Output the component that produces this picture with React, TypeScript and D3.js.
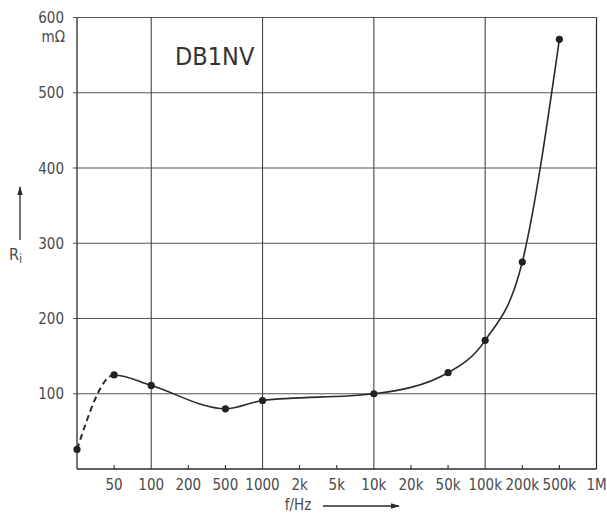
import React from "react";
import * as d3 from "d3";

const xCategories = ["", "50", "100", "200", "500", "1000", "2k", "5k", "10k", "20k", "50k", "100k", "200k", "500k", "1M"];
const gridCategories = ["100", "1000", "10k", "100k"];
const yTicks = [100, 200, 300, 400, 500, 600];
const pointCategories = ["", "50", "100", "500", "1000", "10k", "50k", "100k", "200k", "500k"];
const pointValues = [26, 125, 111, 80, 91, 100, 128, 171, 275, 571];
const title = "DB1NV";

const W = 607, H = 515;
const left = 77, right = 596.5, top = 17.5, bottom = 469;
const FONT = "'Liberation Sans Narrow', 'DejaVu Sans Condensed', 'Liberation Sans', Arial, sans-serif";
const INK = "#2a2a2a";
const TXT = "#4a4a4a";

export default function App() {
  const x = d3.scalePoint<string>().domain(xCategories).range([left, right]);
  const y = d3.scaleLinear().domain([0, 600]).range([bottom, top]);
  const pts: [number, number][] = pointCategories.map((c, i) => [x(c)!, y(pointValues[i])]);
  const line = d3.line<[number, number]>().x(d => d[0]).y(d => d[1]).curve(d3.curveMonotoneX);
  const path = line(pts) || "";
  const splitX = x("50")!;

  return (
    <svg width={W} height={H} style={{ position: "absolute", left: 0, top: 0, background: "#fff" }}>
      <defs>
        <clipPath id="clipDash"><rect x={0} y={0} width={splitX} height={H} /></clipPath>
        <clipPath id="clipSolid"><rect x={splitX} y={0} width={W - splitX} height={H} /></clipPath>
        <marker id="arr" viewBox="0 0 10 10" refX="9" refY="5" markerWidth="7" markerHeight="7" orient="auto">
          <path d="M0,2 L10,5 L0,8 Z" fill={INK} />
        </marker>
      </defs>

      {/* horizontal grid */}
      {yTicks.map(t => (
        <line key={"h" + t} x1={left - 4} x2={right} y1={y(t)} y2={y(t)} stroke="#555" strokeWidth={1.1} />
      ))}
      {/* vertical grid */}
      {gridCategories.map(c => (
        <line key={"v" + c} x1={x(c)} x2={x(c)} y1={top} y2={bottom} stroke="#444" strokeWidth={1.1} />
      ))}
      {/* frame */}
      <line x1={left} x2={left} y1={top} y2={bottom} stroke={INK} strokeWidth={1.3} />
      <line x1={right} x2={right} y1={top} y2={bottom} stroke={INK} strokeWidth={1.2} />
      <line x1={left} x2={right} y1={bottom} y2={bottom} stroke={INK} strokeWidth={1.3} />
      {/* minor ticks */}
      {xCategories.filter(c => c !== "" && !gridCategories.includes(c) && c !== "1M").map(c => (
        <line key={"t" + c} x1={x(c)} x2={x(c)} y1={bottom} y2={bottom - 4} stroke={INK} strokeWidth={1.1} />
      ))}

      {/* y tick labels */}
      {yTicks.map(t => (
        <text key={"yl" + t} x={64} y={y(t) + 5.5} textAnchor="end" fontFamily={FONT} fontSize={15} fill={TXT}>{t}</text>
      ))}
      <text x={65} y={42} textAnchor="end" fontFamily={FONT} fontSize={15} fill={TXT}>mΩ</text>

      {/* x tick labels */}
      {xCategories.filter(c => c !== "").map(c => (
        <text key={"xl" + c} x={x(c)} y={490} textAnchor="middle" fontFamily={FONT} fontSize={15} fill={TXT}>{c}</text>
      ))}

      {/* axis titles */}
      <text x={298} y={510} textAnchor="middle" fontFamily={FONT} fontSize={15} fill={TXT}>f/Hz</text>
      <line x1={323} x2={399} y1={506} y2={506} stroke={INK} strokeWidth={1.3} markerEnd="url(#arr)" />
      <line x1={20} x2={20} y1={240} y2={187} stroke={INK} strokeWidth={1.3} markerEnd="url(#arr)" />
      <text x={9} y={260} fontFamily={FONT} fontSize={16} fill={TXT}>R<tspan fontSize={12} dy={3}>i</tspan></text>

      {/* title */}
      <text x={175} y={65} fontFamily={FONT} fontSize={25} fill="#333">{title}</text>

      {/* curve */}
      <path d={path} fill="none" stroke={INK} strokeWidth={2} strokeDasharray="6 4" clipPath="url(#clipDash)" />
      <path d={path} fill="none" stroke={INK} strokeWidth={1.6} clipPath="url(#clipSolid)" />
      {pts.map((p, i) => (
        <circle key={"p" + i} cx={p[0]} cy={p[1]} r={3.6} fill="#222" />
      ))}
    </svg>
  );
}
